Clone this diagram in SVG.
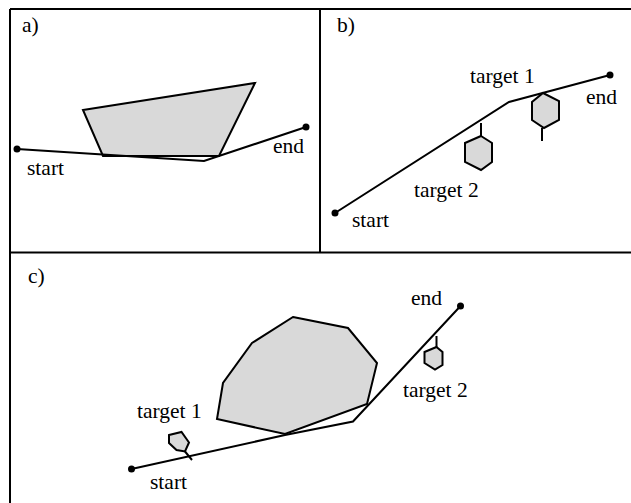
<svg xmlns="http://www.w3.org/2000/svg" width="631" height="503" viewBox="0 0 631 503">
<style>
.frame{fill:none;stroke:#000;stroke-width:2}
.path{fill:none;stroke:#000;stroke-width:2;stroke-linejoin:miter}
.obs{fill:#d9d9d9;stroke:#000;stroke-width:2;stroke-linejoin:miter}
.stem{stroke:#000;stroke-width:2}
.dot{fill:#000}
.lbl{font-size:21.5px;fill:#000}
</style>
<rect width="631" height="503" fill="#fff"/>
<g id="frame">
<line class="frame" x1="10" y1="9" x2="631" y2="9"/>
<line class="frame" x1="10" y1="9" x2="10" y2="503"/>
<line class="frame" x1="10" y1="252.5" x2="631" y2="252.5"/>
<line class="frame" x1="320" y1="9" x2="320" y2="252.5"/>
</g>
<g font-family="Liberation Serif, DejaVu Serif, serif">
<g id="panel-a">
<text class="lbl" x="22" y="32">a)</text>
<polygon id="a-obstacle" class="obs" points="83,110 255,83 219,156 103,156"/>
<g id="a-connectors">
<polyline class="path" points="17,149 204,161 306,127"/>
</g>
<circle class="dot" cx="17" cy="149" r="3.5"/>
<circle class="dot" cx="306" cy="127" r="3.5"/>
<text class="lbl" x="27" y="175">start</text>
<text class="lbl" x="273" y="153">end</text>
</g>
<g id="panel-b">
<text class="lbl" x="337" y="32">b)</text>
<g id="b-connectors">
<polyline class="path" points="335,213 509,102 610,75"/>
</g>
<circle class="dot" cx="335" cy="213" r="3.5"/>
<circle class="dot" cx="610" cy="75" r="3.5"/>
<g id="b-target1">
<polygon class="obs" points="543,93 559,101 559,120 544,128 532,120 532,102"/>
<line class="stem" x1="542" y1="128" x2="542" y2="141"/>
</g>
<g id="b-target2">
<polygon class="obs" points="481,136 492,143 492,162 481,170 465,162 465,143"/>
<line class="stem" x1="481" y1="136" x2="481" y2="123"/>
</g>
<text class="lbl" x="470" y="83">target 1</text>
<text class="lbl" x="586" y="104">end</text>
<text class="lbl" x="414" y="197">target 2</text>
<text class="lbl" x="352" y="227">start</text>
</g>
<g id="panel-c">
<text class="lbl" x="28" y="283">c)</text>
<polygon id="c-obstacle" class="obs" points="293,317 348,328 377,363 367,404 285,434 217,419 223,383 252,343"/>
<g id="c-connectors">
<polyline class="path" points="131.5,469 285,435 353,421.5 460.5,306"/>
</g>
<circle class="dot" cx="131.5" cy="469" r="3.5"/>
<circle class="dot" cx="460.5" cy="306" r="3.5"/>
<g id="c-target1">
<polygon class="obs" points="169,435 181.5,432 189,442.5 185,451.5 176.5,450 169,443"/>
<line class="stem" x1="185" y1="451.5" x2="192" y2="460"/>
</g>
<g id="c-target2">
<polygon class="obs" points="436.5,347 442.5,352 442.5,365 435,369.5 424.5,363 424.5,352"/>
<line class="stem" x1="436.5" y1="347" x2="436.5" y2="336"/>
</g>
<text class="lbl" x="137" y="418">target 1</text>
<text class="lbl" x="150" y="489">start</text>
<text class="lbl" x="411" y="305">end</text>
<text class="lbl" x="403" y="397">target 2</text>
</g>
</g>
</svg>
